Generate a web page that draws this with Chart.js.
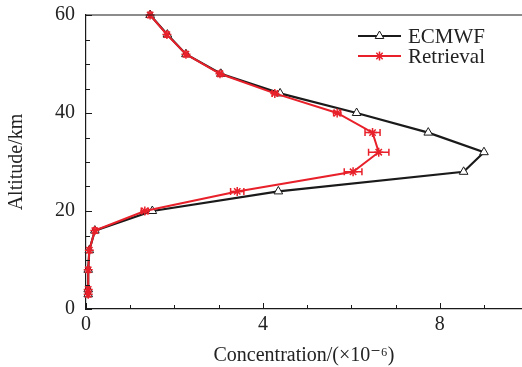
<!DOCTYPE html>
<html>
<head>
<meta charset="utf-8">
<script src="https://cdn.jsdelivr.net/npm/chart.js@4.4.1/dist/chart.umd.min.js"></script>
<style>
  html, body { margin: 0; padding: 0; background: #fff; }
  #wrap { width: 522px; height: 367px; position: relative; }
</style>
</head>
<body>
<div id="wrap"><canvas id="profileChart"></canvas></div>
<script>
// Altitude profile: ECMWF vs retrieval
const altitudes = [60, 56, 52, 48, 44, 40, 36, 32, 28, 24, 20, 16, 12, 8, 4, 3];
const ecmwf = [1.45, 1.84, 2.26, 3.05, 4.39, 6.12, 7.74, 9.0, 8.54, 4.35, 1.5, 0.2, 0.075, 0.05, 0.05, 0.05];
const retrieval = [1.45, 1.83, 2.26, 3.03, 4.27, 5.68, 6.48, 6.62, 6.04, 3.42, 1.33, 0.2, 0.075, 0.05, 0.05, 0.05];
const retrievalErr = [0.03, 0.03, 0.03, 0.04, 0.06, 0.08, 0.17, 0.23, 0.2, 0.15, 0.08, 0.03, 0.02, 0.02, 0.02, 0.02];

const xTicks = [0, 4, 8];
const yTicks = [0, 20, 40, 60];
const xMinorStep = 1;
const yMinorStep = 5;

const FONT = '"Liberation Serif", "DejaVu Serif", serif';
const TEXT = '#222';
const BLACK = '#1a1a1a';
const RED = '#e8202a';

const toPoints = (xs) => xs.map((v, i) => ({ x: v, y: altitudes[i] }));

// inward ticks, top border, error bars and legend
const decorations = {
    id: 'decorations',
    afterDatasetsDraw(chart) {
        const ctx = chart.ctx;
        const { left, right, top, bottom } = chart.chartArea;
        const xs = chart.scales.x, ys = chart.scales.y;
        ctx.save();

        // error bars on retrieval
        ctx.strokeStyle = RED;
        ctx.lineWidth = 1.5;
        retrieval.forEach((v, i) => {
            const y = ys.getPixelForValue(altitudes[i]);
            const x1 = xs.getPixelForValue(v - retrievalErr[i]);
            const x2 = xs.getPixelForValue(v + retrievalErr[i]);
            ctx.beginPath();
            ctx.moveTo(x1, y); ctx.lineTo(x2, y);
            ctx.moveTo(x1, y - 3.5); ctx.lineTo(x1, y + 3.5);
            ctx.moveTo(x2, y - 3.5); ctx.lineTo(x2, y + 3.5);
            ctx.stroke();
        });

        // axis frame top
        ctx.strokeStyle = BLACK;
        ctx.lineWidth = 1.2;
        ctx.beginPath();
        ctx.moveTo(left, top); ctx.lineTo(right, top);
        ctx.stroke();

        // ticks pointing into the plot
        ctx.lineWidth = 1;
        ctx.beginPath();
        for (let v = 0; v <= xs.max + 1e-9; v += xMinorStep) {
            const px = Math.round(xs.getPixelForValue(v)) + 0.5;
            const len = xTicks.includes(v) ? 6 : 4;
            ctx.moveTo(px, bottom); ctx.lineTo(px, bottom - len);
        }
        for (let v = 0; v <= ys.max + 1e-9; v += yMinorStep) {
            const py = Math.round(ys.getPixelForValue(v)) + 0.5;
            const len = yTicks.includes(v) ? 6 : 4;
            ctx.moveTo(left, py); ctx.lineTo(left + len, py);
        }
        ctx.stroke();

        // legend
        const items = chart.data.datasets;
        const lx1 = 358, lx2 = 401, tx = 408;
        [36, 56].forEach((ly, i) => {
            const ds = items[i];
            ctx.strokeStyle = ds.borderColor;
            ctx.lineWidth = ds.borderWidth;
            ctx.beginPath();
            ctx.moveTo(lx1, ly); ctx.lineTo(lx2, ly);
            ctx.stroke();
            ctx.fillStyle = ds.pointBackgroundColor;
            ctx.strokeStyle = ds.pointBorderColor;
            ctx.lineWidth = ds.pointBorderWidth;
            Chart.helpers.drawPoint(ctx, {
                pointStyle: ds.pointStyle,
                radius: ds.pointRadius,
                rotation: 0,
                borderWidth: ds.pointBorderWidth
            }, (lx1 + lx2) / 2, ly);
            ctx.fillStyle = TEXT;
            ctx.font = '21px ' + FONT;
            ctx.textAlign = 'left';
            ctx.textBaseline = 'middle';
            ctx.fillText(ds.label, tx, ly + 1);
        });

        ctx.restore();
    }
};

const ctx = document.getElementById('profileChart');
new Chart(ctx, {
    type: 'line',
    data: {
        datasets: [
            {
                label: 'ECMWF',
                data: toPoints(ecmwf),
                borderColor: BLACK,
                borderWidth: 2.2,
                pointStyle: 'triangle',
                pointRadius: 5,
                pointBackgroundColor: '#fff',
                pointBorderColor: BLACK,
                pointBorderWidth: 1,
                tension: 0,
                clip: false,
                order: 2
            },
            {
                label: 'Retrieval',
                data: toPoints(retrieval),
                borderColor: RED,
                borderWidth: 2,
                pointStyle: 'star',
                pointRadius: 4.5,
                pointBackgroundColor: RED,
                pointBorderColor: RED,
                pointBorderWidth: 1.5,
                tension: 0,
                clip: false,
                order: 1
            }
        ]
    },
    options: {
        responsive: true,
        maintainAspectRatio: false,
        animation: false,
        layout: { autoPadding: false, padding: { left: 5, right: 0, top: 15, bottom: 0 } },
        plugins: {
            legend: { display: false },
            tooltip: { enabled: false }
        },
        scales: {
            x: {
                type: 'linear',
                min: 0,
                max: 9.86,
                afterBuildTicks: (scale) => { scale.ticks = xTicks.map(v => ({ value: v })); },
                afterFit: (scale) => {
                    scale.height = 58;
                    scale.paddingLeft = 0;
                    scale.paddingRight = 0;
                },
                grid: { display: false, drawTicks: false },
                border: { display: true, color: BLACK, width: 1.2 },
                ticks: {
                    padding: 4,
                    color: TEXT,
                    font: { family: FONT, size: 20 },
                    maxRotation: 0
                },
                title: {
                    display: true,
                    text: 'Concentration/(×10⁻⁶)',
                    color: TEXT,
                    font: { family: FONT, size: 20, lineHeight: 1.1 },
                    padding: 0
                }
            },
            y: {
                type: 'linear',
                min: 0,
                max: 60,
                afterBuildTicks: (scale) => { scale.ticks = yTicks.map(v => ({ value: v })); },
                afterFit: (scale) => {
                    scale.width = 81;
                    scale.paddingTop = 0;
                    scale.paddingBottom = 0;
                },
                grid: { display: false, drawTicks: false },
                border: { display: true, color: BLACK, width: 1.2 },
                ticks: {
                    padding: 11,
                    color: TEXT,
                    font: { family: FONT, size: 20 }
                },
                title: {
                    display: true,
                    text: 'Altitude/km',
                    color: TEXT,
                    font: { family: FONT, size: 20, lineHeight: 1.2 },
                    padding: 0
                }
            }
        }
    },
    plugins: [decorations]
});
</script>
</body>
</html>
